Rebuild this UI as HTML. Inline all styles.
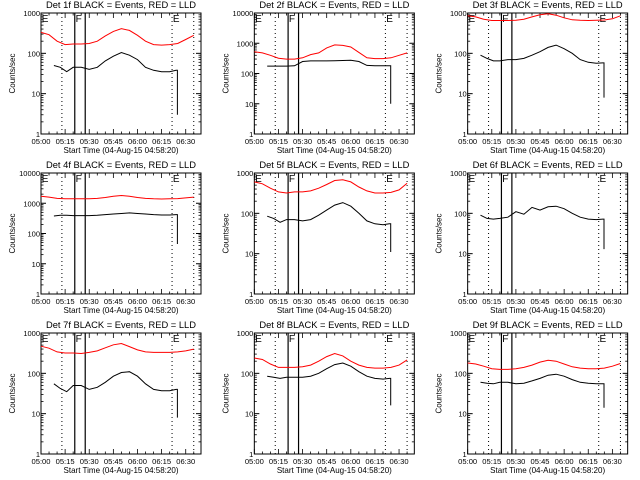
<!DOCTYPE html>
<html><head><meta charset="utf-8"><style>
html,body{margin:0;padding:0;background:#fff;}
svg{display:block;font-family:"Liberation Sans",sans-serif;}
</style></head><body>
<svg id="c" width="640" height="480" viewBox="0 0 640 480"></svg>
<script>
// Data (time in minutes after 05:00)
const redTimes = [0,5,10,15,20,25,30,35,40,45,50,55,60,65,70,75,80,85,90,95];
const blackTimes = [8,12,16,20,25,30,35,40,45,50,55,60,65,70,75,80,84];
const xTickLabels = ["05:00","05:15","05:30","05:45","06:00","06:15","06:30"];
const detNames = ["1f","2f","3f","4f","5f","6f","7f","8f","9f"];
const yMaxDecades = [3,4,3,4,3,3,3,3,3];
const red1 = [330,290,200,165,170,170,175,200,270,350,410,370,280,200,165,160,165,175,220,280];
const red2 = [520,480,400,320,300,300,330,420,480,700,880,850,750,500,330,310,310,330,400,480];
const red3 = [850,800,700,650,650,650,660,700,800,900,960,880,760,680,660,650,660,670,720,850];
const red4 = [1700,1600,1450,1400,1400,1400,1400,1450,1550,1700,1800,1700,1550,1450,1400,1380,1400,1420,1500,1600];
const red5 = [600,540,420,340,320,340,340,360,420,520,650,680,600,450,360,320,320,330,380,560];
const red6 = [];
const red7 = [470,420,340,320,320,310,330,360,430,510,550,460,380,340,330,330,330,340,360,400];
const red8 = [240,220,170,140,140,140,145,160,200,260,310,270,200,160,140,135,135,140,160,215];
const red9 = [180,170,150,130,125,125,130,140,160,190,210,200,170,145,135,130,130,135,150,175];
const black1 = [50,45,35,45,45,40,45,65,85,105,90,70,45,38,35,35,38];
const black2 = [175,175,175,175,180,250,260,260,260,265,270,275,250,185,180,180,180];
const black3 = [90,75,65,65,70,70,75,90,110,140,160,130,100,70,60,57,58];
const black4 = [380,400,400,390,390,390,400,420,440,460,480,460,440,420,410,410,420];
const black5 = [85,75,60,70,70,65,70,90,120,160,185,150,100,65,55,52,55];
const black6 = [90,75,72,75,80,110,95,140,120,145,150,130,100,80,72,70,72];
const black7 = [55,42,35,50,50,40,45,60,85,105,110,85,55,40,37,37,40];
const black8 = [85,80,75,80,80,80,85,100,130,165,180,150,110,85,75,72,75];
const black9 = [60,57,55,60,60,55,57,65,75,90,95,85,70,60,57,55,55];
const blackEnd = [3,10,8,45,11,13,8,16,14];
const reds = [red1,red2,red3,red4,red5,red6,red7,red8,red9];
const blacks = [black1,black2,black3,black4,black5,black6,black7,black8,black9];
const dottedTimes = [13,81.5,95];
const solidTimes = [21,27.5];

const NS="http://www.w3.org/2000/svg";
const svg=document.getElementById('c');
function mk(tag,attrs,parent){const e=document.createElementNS(NS,tag);for(const k in attrs)e.setAttribute(k,attrs[k]);(parent||svg).appendChild(e);return e;}

for(let p=0;p<9;p++){
  const col=p%3,row=Math.floor(p/3);
  const ox=col*213.33, oy=row*160;
  const L=ox+41,R=ox+201,T=oy+13,B=oy+134;
  const nd=yMaxDecades[p];
  const xs=t=>L+t*(R-L)/99.5;
  const ys=v=>B-Math.log10(Math.max(v,1))*(B-T)/nd;
  const g=mk('g',{});
  
  
  const ti=mk('text',{x:(L+R)/2,y:oy+8,'text-anchor':'middle','font-size':9,textLength:150,lengthAdjust:'spacingAndGlyphs'},g);
  ti.textContent='Det '+detNames[p]+' BLACK = Events, RED = LLD';
  
  
  const bx=mk('rect',{x:L,y:T,width:R-L,height:B-T,fill:'none',stroke:'#000','stroke-width':1},g);
  
  
  for(let d=0;d<=nd;d++){
    const y=ys(Math.pow(10,d));
    mk('line',{x1:L,x2:L+5,y1:y,y2:y,stroke:'#000'},g);
    mk('line',{x1:R,x2:R-5,y1:y,y2:y,stroke:'#000'},g);
    const lb=mk('text',{x:L-1,y:y+3,'text-anchor':'end','font-size':7.5},g);
    lb.textContent=String(Math.pow(10,d));
    
    
    if(d<nd)for(let m=2;m<10;m++){const yy=ys(m*Math.pow(10,d));
      mk('line',{x1:L,x2:L+2.5,y1:yy,y2:yy,stroke:'#000','stroke-width':0.8},g);
      mk('line',{x1:R,x2:R-2.5,y1:yy,y2:yy,stroke:'#000','stroke-width':0.8},g);}
  }
  for(let t=0;t<=95;t+=5){const x=xs(t);const len=t%15===0?5:2.5;
    mk('line',{x1:x,x2:x,y1:B,y2:B-len,stroke:'#000','stroke-width':0.8},g);
    mk('line',{x1:x,x2:x,y1:T,y2:T+len,stroke:'#000','stroke-width':0.8},g);}
  xTickLabels.forEach((s,i)=>{const lb=mk('text',{x:xs(i*15),y:oy+144,'text-anchor':'middle','font-size':7.5,textLength:19,lengthAdjust:'spacingAndGlyphs'},g);
    lb.textContent=s;
    
    });
  const xl=mk('text',{x:(L+R)/2,y:oy+153,'text-anchor':'middle','font-size':8.5,textLength:115,lengthAdjust:'spacingAndGlyphs'},g);
  xl.textContent='Start Time (04-Aug-15 04:58:20)';
  
  
  const yl=mk('text',{x:0,y:0,'text-anchor':'middle','font-size':8,transform:`translate(${ox+15},${(T+B)/2}) rotate(-90)`},g);
  yl.textContent='Counts/sec';
  
  
  dottedTimes.forEach(t=>{const x=xs(t);const l=mk('line',{x1:x,x2:x,y1:T,y2:B,stroke:'#000','stroke-dasharray':'1,3'},g);
    
    });
  solidTimes.forEach(t=>{const x=xs(t);const l=mk('line',{x1:x,x2:x,y1:T,y2:B,stroke:'#000','stroke-width':1.2},g);
    
    });
  [['E',0.5],['F',solidTimes[0]+0.5],['E',dottedTimes[1]+0.5]].forEach(([s,t])=>{
    const tx=mk('text',{x:xs(t),y:T+9,'font-size':10},g);tx.textContent=s;
    
    });
  const r=reds[p];
  if(r.length){const pts=r.map((v,i)=>xs(redTimes[i]).toFixed(1)+','+ys(v).toFixed(1)).join(' ');
    const pl=mk('polyline',{points:pts,fill:'none',stroke:'#ff0000','stroke-width':1},g);
    
    }
  const b=blacks[p];
  let pts=b.map((v,i)=>xs(blackTimes[i]).toFixed(1)+','+ys(v).toFixed(1));
  const te=blackTimes[blackTimes.length-1];
  pts.push(xs(te+0.8).toFixed(1)+','+ys(b[b.length-1]).toFixed(1));
  pts.push(xs(te+0.8).toFixed(1)+','+ys(blackEnd[p]).toFixed(1));
  const bl=mk('polyline',{points:pts.join(' '),fill:'none',stroke:'#000','stroke-width':1},g);
  
  
}
</script>
</body></html>
